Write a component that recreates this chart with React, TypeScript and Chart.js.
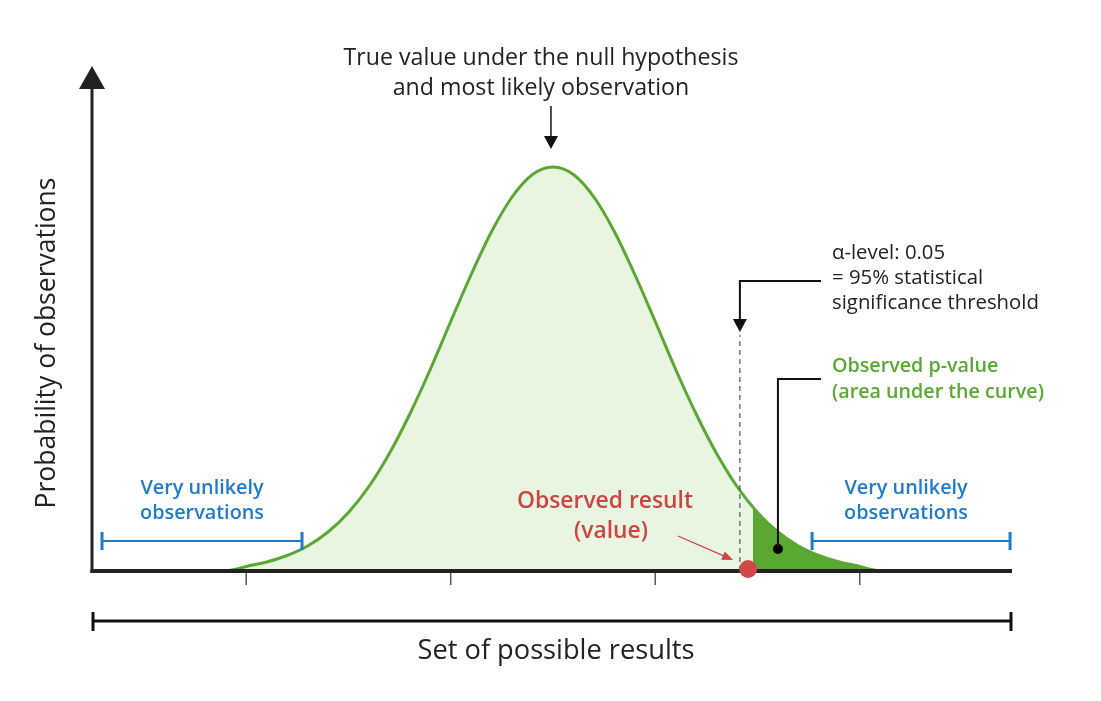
import { useEffect, useRef } from "react";
import { Chart, registerables } from "chart.js";
Chart.register(...registerables);

// Distribution curve (x in units of possible results, y = relative probability)
const curveX = [-1.6, -1.55, -1.5, -1.4, -1.3, -1.2, -1.1, -1.0, -0.9, -0.8, -0.7, -0.6, -0.5, -0.4, -0.3, -0.2, -0.1, 0, 0.1, 0.2, 0.3, 0.4, 0.5, 0.6, 0.7, 0.8, 0.9, 1.0, 1.1, 1.2, 1.3, 1.4, 1.5, 1.55, 1.6];
const curveY = [0, 0.35, 0.9, 1.8, 3.1, 5.0, 7.8, 11.7, 16.9, 23.5, 31.4, 40.3, 49.9, 59.3, 67.9, 74.8, 79.3, 80.8, 79.3, 74.8, 67.9, 59.3, 49.9, 40.3, 31.4, 23.5, 16.9, 11.7, 7.8, 5.0, 3.1, 1.8, 0.9, 0.35, 0];

// Shaded tail (observed p-value)
const tailX = [0.978, 1.0, 1.1, 1.2, 1.3, 1.4, 1.5, 1.55, 1.6];
const tailY = [12.6, 11.7, 7.8, 5.0, 3.1, 1.8, 0.9, 0.35, 0];

// Tick positions on the result axis
const tickValues = [-1.5, -0.5, 0.5, 1.5];

// Significance threshold (dashed line)
const thresholdX = [0.914, 0.914];
const thresholdY = [0, 47.2];

// Observed result and p-value marker
const observedPoint = [{ x: 0.954, y: 0.4 }];
const pValuePoint = [{ x: 1.1, y: 4.4 }];

// "Very unlikely" ranges
const unlikelyLeft = [-2.205, -1.227];
const unlikelyRight = [1.267, 2.235];
const unlikelyLevel = 6.0;

const X_MIN = -2.254;
const X_MAX = 2.2445;

const FONT = "'Open Sans', 'Noto Sans', sans-serif";
const GREEN = "#5aa832";
const LIGHT_GREEN = "#e8f5e0";
const BLUE = "#1f7ac9";
const RED = "#cc4545";
const DARK = "#222222";

function zip(xs: number[], ys: number[]) {
  return xs.map((x, i) => ({ x, y: ys[i] }));
}

function arrowHead(ctx: CanvasRenderingContext2D, tipX: number, tipY: number, angle: number, len: number, half: number, color: string) {
  ctx.save();
  ctx.translate(tipX, tipY);
  ctx.rotate(angle);
  ctx.beginPath();
  ctx.moveTo(0, 0);
  ctx.lineTo(-len, -half);
  ctx.lineTo(-len, half);
  ctx.closePath();
  ctx.fillStyle = color;
  ctx.fill();
  ctx.restore();
}

// font size so that a reference line gets the wanted width
function fitFont(ctx: CanvasRenderingContext2D, s: string, weight: string, width: number) {
  ctx.font = `${weight} 20px ${FONT}`;
  const w = ctx.measureText(s).width;
  const size = (20 * width) / w;
  return `${weight} ${size.toFixed(2)}px ${FONT}`;
}

function text(ctx: CanvasRenderingContext2D, s: string, x: number, y: number, font: string, color: string, align: CanvasTextAlign) {
  ctx.font = font;
  ctx.fillStyle = color;
  ctx.textAlign = align;
  ctx.textBaseline = "middle";
  ctx.fillText(s, x, y);
}

const drawingPlugin = {
  id: "hypothesisDrawing",
  afterDatasetDraw(chart: any, args: any) {
    if (args.index !== 1) return;
    const ctx: CanvasRenderingContext2D = chart.ctx;
    const { left, right, bottom } = chart.chartArea;
    const xs = chart.scales.x;
    ctx.save();
    // ticks
    ctx.strokeStyle = "#555";
    ctx.lineWidth = 1.5;
    tickValues.forEach((v) => {
      const p = xs.getPixelForValue(v);
      ctx.beginPath();
      ctx.moveTo(p, bottom + 2);
      ctx.lineTo(p, bottom + 14);
      ctx.stroke();
    });
    // x axis
    ctx.strokeStyle = DARK;
    ctx.lineWidth = 4;
    ctx.beginPath();
    ctx.moveTo(left - 1.5, bottom);
    ctx.lineTo(right, bottom);
    ctx.stroke();
    // y axis
    ctx.lineWidth = 3;
    ctx.beginPath();
    ctx.moveTo(left, bottom + 2);
    ctx.lineTo(left, 86);
    ctx.stroke();
    arrowHead(ctx, left, 66, -Math.PI / 2, 23, 13, DARK);
    ctx.restore();
  },
  afterDraw(chart: any) {
    const ctx: CanvasRenderingContext2D = chart.ctx;
    const { left, right } = chart.chartArea;
    const xs = chart.scales.x;
    const ys = chart.scales.y;
    ctx.save();

    // bracket under axis
    ctx.strokeStyle = "#111";
    ctx.lineWidth = 3;
    ctx.beginPath();
    ctx.moveTo(left + 1, 621);
    ctx.lineTo(right - 1, 621);
    ctx.moveTo(left + 1, 612);
    ctx.lineTo(left + 1, 631);
    ctx.moveTo(right - 1, 612);
    ctx.lineTo(right - 1, 631);
    ctx.stroke();

    // axis titles
    const xt = "Set of possible results";
    text(ctx, xt, 556, 651, fitFont(ctx, xt, "400", 277), DARK, "center");
    const yt = "Probability of observations";
    const ytFont = fitFont(ctx, yt, "400", 331);
    ctx.save();
    ctx.translate(47, 343);
    ctx.rotate(-Math.PI / 2);
    text(ctx, yt, 0, 0, ytFont, DARK, "center");
    ctx.restore();

    // top annotation
    const t1 = "True value under the null hypothesis";
    const topFont = fitFont(ctx, t1, "400", 395);
    text(ctx, t1, 541, 58, topFont, DARK, "center");
    text(ctx, "and most likely observation", 541, 88, topFont, DARK, "center");
    const peakX = xs.getPixelForValue(0) - 2;
    ctx.strokeStyle = "#111";
    ctx.lineWidth = 1.5;
    ctx.beginPath();
    ctx.moveTo(peakX, 106);
    ctx.lineTo(peakX, 138);
    ctx.stroke();
    arrowHead(ctx, peakX, 149, Math.PI / 2, 13, 7, "#111");

    // alpha annotation
    const aFont = fitFont(ctx, "significance threshold", "400", 207);
    text(ctx, "α-level: 0.05", 832, 253, aFont, DARK, "left");
    text(ctx, "= 95% statistical", 832, 278, aFont, DARK, "left");
    text(ctx, "significance threshold", 832, 303, aFont, DARK, "left");
    const tx = xs.getPixelForValue(thresholdX[0]);
    ctx.strokeStyle = "#111";
    ctx.lineWidth = 2;
    ctx.beginPath();
    ctx.moveTo(821, 281);
    ctx.lineTo(tx, 281);
    ctx.lineTo(tx, 321);
    ctx.stroke();
    arrowHead(ctx, tx, 332, Math.PI / 2, 13, 7, "#111");

    // p-value annotation
    const gFont = fitFont(ctx, "(area under the curve)", "600", 212);
    text(ctx, "Observed p-value", 832, 366, gFont, GREEN, "left");
    text(ctx, "(area under the curve)", 832, 392, gFont, GREEN, "left");
    const pvx = xs.getPixelForValue(pValuePoint[0].x);
    const pvy = ys.getPixelForValue(pValuePoint[0].y);
    ctx.strokeStyle = "#111";
    ctx.lineWidth = 2;
    ctx.beginPath();
    ctx.moveTo(821, 379);
    ctx.lineTo(pvx, 379);
    ctx.lineTo(pvx, pvy);
    ctx.stroke();

    // very unlikely brackets
    const bFont = fitFont(ctx, "observations", "600", 124);
    const by = ys.getPixelForValue(unlikelyLevel);
    [unlikelyLeft, unlikelyRight].forEach((r, i) => {
      const a = xs.getPixelForValue(r[0]);
      const b = xs.getPixelForValue(r[1]);
      ctx.strokeStyle = BLUE;
      ctx.lineWidth = 2;
      ctx.beginPath();
      ctx.moveTo(a, by);
      ctx.lineTo(b, by);
      ctx.stroke();
      ctx.lineWidth = 3;
      ctx.beginPath();
      ctx.moveTo(a, by - 9);
      ctx.lineTo(a, by + 9);
      ctx.moveTo(b, by - 9);
      ctx.lineTo(b, by + 9);
      ctx.stroke();
      const c = (a + b) / 2 - (i === 1 ? 5 : 0);
      text(ctx, "Very unlikely", c, 488, bFont, BLUE, "center");
      text(ctx, "observations", c, 513, bFont, BLUE, "center");
    });

    // observed result
    const rFont = fitFont(ctx, "Observed result", "600", 176);
    text(ctx, "Observed result", 605, 501, rFont, RED, "center");
    text(ctx, "(value)", 611, 531, rFont, RED, "center");
    const ox = xs.getPixelForValue(observedPoint[0].x) - 15;
    const oy = ys.getPixelForValue(observedPoint[0].y) - 9;
    const sx = 678, sy = 536;
    const ang = Math.atan2(oy - sy, ox - sx);
    ctx.strokeStyle = RED;
    ctx.lineWidth = 1.3;
    ctx.beginPath();
    ctx.moveTo(sx, sy);
    ctx.lineTo(ox - 9 * Math.cos(ang), oy - 9 * Math.sin(ang));
    ctx.stroke();
    arrowHead(ctx, ox, oy, ang, 11, 4.5, RED);

    ctx.restore();
  },
};

export default function App() {
  const ref = useRef<HTMLCanvasElement | null>(null);
  useEffect(() => {
    if (!ref.current) return;
    const chart = new Chart(ref.current, {
      type: "line",
      data: {
        datasets: [
          {
            data: zip(curveX, curveY),
            borderColor: GREEN,
            borderWidth: 3,
            backgroundColor: LIGHT_GREEN,
            fill: "origin",
            pointRadius: 0,
            cubicInterpolationMode: "monotone",
            order: 5,
          },
          {
            data: zip(tailX, tailY),
            borderColor: GREEN,
            borderWidth: 0,
            backgroundColor: GREEN,
            fill: "origin",
            pointRadius: 0,
            cubicInterpolationMode: "monotone",
            order: 4,
          },
          {
            data: zip(thresholdX, thresholdY),
            borderColor: "#333",
            borderWidth: 1,
            borderDash: [5, 4],
            fill: false,
            pointRadius: 0,
            order: 3,
          },
          {
            type: "scatter",
            data: pValuePoint,
            pointRadius: 5,
            pointBackgroundColor: "#000",
            pointBorderWidth: 0,
            clip: false,
            order: 1,
          },
          {
            type: "scatter",
            data: observedPoint,
            pointRadius: 9,
            pointBackgroundColor: "#d04848",
            pointBorderWidth: 0,
            clip: false,
            order: 0,
          },
        ] as any,
      },
      options: {
        animation: false,
        responsive: true,
        maintainAspectRatio: false,
        layout: { padding: { left: 92, right: 89, top: 71, bottom: 130 } },
        plugins: { legend: { display: false }, tooltip: { enabled: false }, title: { display: false } },
        events: [],
        scales: {
          x: { type: "linear", display: false, min: X_MIN, max: X_MAX },
          y: { type: "linear", display: false, min: 0, max: 100 },
        },
      },
      plugins: [drawingPlugin],
    });
    return () => chart.destroy();
  }, []);
  return (
    <div style={{ position: "fixed", left: 0, top: 0, width: 1101, height: 701, background: "#fff" }}>
      <canvas ref={ref} />
    </div>
  );
}
